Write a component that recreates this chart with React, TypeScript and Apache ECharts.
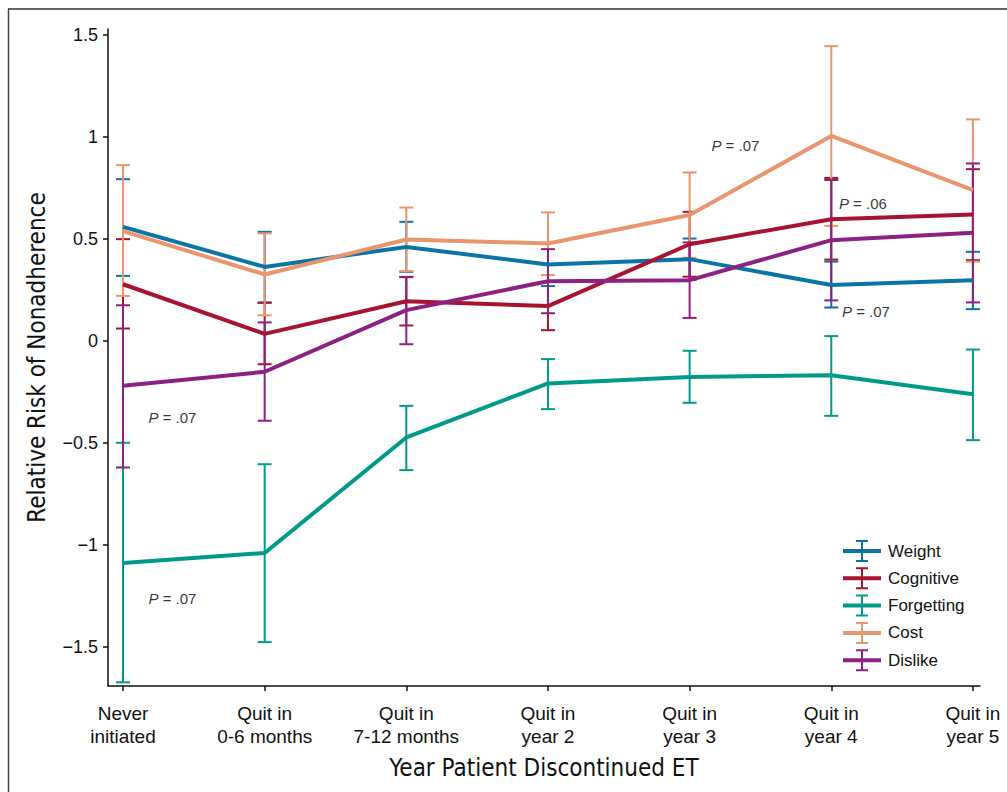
import React, { useEffect, useRef } from "react";
import * as echarts from "echarts";

const categories = [
  "Never\ninitiated",
  "Quit in\n0-6 months",
  "Quit in\n7-12 months",
  "Quit in\nyear 2",
  "Quit in\nyear 3",
  "Quit in\nyear 4",
  "Quit in\nyear 5",
];
const categoryIndex = [0, 1, 2, 3, 4, 5, 6];
const yTicks = [-1.5, -1, -0.5, 0, 0.5, 1, 1.5];

const seriesNames = ["Weight", "Cognitive", "Forgetting", "Cost", "Dislike"];
const seriesColors = ["#0a74a8", "#a8142f", "#009a8c", "#e9966e", "#8d2083"];

const weight = [0.56, 0.364, 0.462, 0.376, 0.402, 0.275, 0.299];
const weightLow = [0.32, 0.19, 0.34, 0.27, 0.3, 0.165, 0.157];
const weightHigh = [0.794, 0.536, 0.585, 0.482, 0.503, 0.39, 0.438];

const cognitive = [0.279, 0.036, 0.196, 0.172, 0.475, 0.598, 0.621];
const cognitiveLow = [0.062, -0.113, 0.077, 0.054, 0.316, 0.4, 0.397];
const cognitiveHigh = [0.5, 0.188, 0.315, 0.29, 0.634, 0.8, 0.843];

const forgetting = [-1.087, -1.038, -0.472, -0.207, -0.175, -0.167, -0.26];
const forgettingLow = [-1.672, -1.475, -0.632, -0.333, -0.302, -0.366, -0.485];
const forgettingHigh = [-0.498, -0.603, -0.317, -0.088, -0.047, 0.025, -0.041];

const cost = [0.539, 0.327, 0.498, 0.479, 0.618, 1.006, 0.74];
const costLow = [0.222, 0.127, 0.343, 0.324, 0.409, 0.565, 0.39];
const costHigh = [0.863, 0.528, 0.655, 0.631, 0.827, 1.446, 1.087];

const dislike = [-0.219, -0.15, 0.152, 0.294, 0.299, 0.495, 0.531];
const dislikeLow = [-0.619, -0.39, -0.015, 0.137, 0.114, 0.2, 0.19];
const dislikeHigh = [0.176, 0.092, 0.314, 0.451, 0.484, 0.79, 0.871];

const annotX = [0.349, 0.349, 4.323, 5.223, 5.245];
const annotY = [-0.373, -1.26, 0.961, 0.676, 0.147];
const annotText = [".07", ".07", ".07", ".06", ".07"];

const means = [weight, cognitive, forgetting, cost, dislike];
const lows = [weightLow, cognitiveLow, forgettingLow, costLow, dislikeLow];
const highs = [weightHigh, cognitiveHigh, forgettingHigh, costHigh, dislikeHigh];

const FONT = "'Liberation Sans', Arial, Helvetica, sans-serif";
const NARROW = "'Liberation Sans Narrow', 'DejaVu Sans Condensed', 'Liberation Sans', sans-serif";
const LEGEND_ICON =
  "path://M0,9h38v4h-38z M18,1h2v20h-2z M13,0h12v2h-12z M13,20h12v2h-12z";

function fmtY(v: number): string {
  if (v < 0) return "\u2212" + String(Math.abs(v));
  return String(v);
}

export default function App() {
  const ref = useRef<HTMLDivElement>(null);

  useEffect(() => {
    document.body.style.margin = "0";
    if (!ref.current) return;
    const chart = echarts.init(ref.current, undefined, { renderer: "svg" });

    const series: any[] = [];
    seriesNames.forEach((name, k) => {
      const color = seriesColors[k];
      series.push({
        type: "line",
        name,
        z: 3,
        showSymbol: false,
        symbol: "none",
        color,
        itemStyle: { color },
        lineStyle: { color, width: 4 },
        data: categoryIndex.map((i) => [i, means[k][i]]),
      });
    });
    seriesNames.forEach((name, k) => {
      const color = seriesColors[k];
      series.push({
        type: "custom",
        name,
        clip: false,
        z: 2,
        color,
        itemStyle: { color },
        data: categoryIndex.map((i) => [i, lows[k][i], highs[k][i]]),
        encode: { x: 0, y: [1, 2] },
        renderItem: (params: any, api: any) => {
          const x = api.value(0);
          const p1 = api.coord([x, api.value(1)]);
          const p2 = api.coord([x, api.value(2)]);
          const hw = 7;
          const style = { stroke: color, lineWidth: 2 };
          return {
            type: "group",
            children: [
              { type: "line", shape: { x1: p1[0], y1: p1[1], x2: p2[0], y2: p2[1] }, style },
              { type: "line", shape: { x1: p1[0] - hw, y1: p1[1], x2: p1[0] + hw, y2: p1[1] }, style },
              { type: "line", shape: { x1: p2[0] - hw, y1: p2[1], x2: p2[0] + hw, y2: p2[1] }, style },
            ],
          };
        },
      });
    });
    series.push({
      type: "scatter",
      name: "annotations",
      symbolSize: 0,
      z: 5,
      silent: true,
      data: annotX.map((x, i) => ({ value: [x, annotY[i]], text: annotText[i] })),
      label: {
        show: true,
        position: "inside",
        formatter: (p: any) => "{i|P} = " + p.data.text,
        fontFamily: FONT,
        fontSize: 15,
        color: "#000",
        rich: {
          i: { fontStyle: "italic", fontFamily: FONT, fontSize: 15, color: "#000" },
        },
      },
    });

    chart.setOption({
      animation: false,
      backgroundColor: "#ffffff",
      grid: { left: 108, right: 27, top: 29, bottom: 106 },
      legend: {
        data: seriesNames.map((n) => ({ name: n, icon: LEGEND_ICON })),
        orient: "vertical",
        left: 843,
        top: 540,
        padding: 0,
        itemWidth: 38,
        itemHeight: 22,
        itemGap: 5.3,
        selectedMode: false,
        textStyle: { fontFamily: FONT, fontSize: 17, color: "#111", padding: [0, 0, 0, 2] },
      },
      xAxis: {
        type: "value",
        min: -0.106,
        max: 6.05,
        name: "Year Patient Discontinued ET",
        nameLocation: "middle",
        nameGap: 70,
        nameTextStyle: { fontFamily: NARROW, fontSize: 24, color: "#111" },
        axisLine: { onZero: false, lineStyle: { color: "#111", width: 1.5 } },
        axisTick: { show: true, length: 5, customValues: categoryIndex, lineStyle: { color: "#111", width: 1.5 } },
        axisLabel: {
          customValues: categoryIndex,
          formatter: (v: number) => categories[Math.round(v)] ?? "",
          fontFamily: FONT,
          fontSize: 19,
          lineHeight: 23,
          margin: 16,
          color: "#111",
        },
        splitLine: { show: false },
      },
      yAxis: {
        type: "value",
        min: -1.69,
        max: 1.53,
        name: "Relative Risk of Nonadherence",
        nameLocation: "middle",
        nameGap: 59,
        nameTextStyle: { fontFamily: NARROW, fontSize: 24, color: "#111" },
        axisLine: { show: true, onZero: false, lineStyle: { color: "#111", width: 1.5 } },
        axisTick: { show: true, length: 5, customValues: yTicks, lineStyle: { color: "#111", width: 1.5 } },
        axisLabel: {
          customValues: yTicks,
          formatter: (v: number) => fmtY(v),
          fontFamily: FONT,
          fontSize: 18,
          margin: 10,
          color: "#111",
        },
        splitLine: { show: false },
      },
      graphic: [
        { type: "line", silent: true, shape: { x1: 8, y1: 9, x2: 1007, y2: 9 }, style: { stroke: "#666", lineWidth: 2 } },
        { type: "line", silent: true, shape: { x1: 8.5, y1: 9, x2: 8.5, y2: 792 }, style: { stroke: "#444", lineWidth: 1.5 } },
      ],
      series,
    });

    return () => {
      chart.dispose();
    };
  }, []);

  return <div ref={ref} style={{ width: 1007, height: 792 }} />;
}
